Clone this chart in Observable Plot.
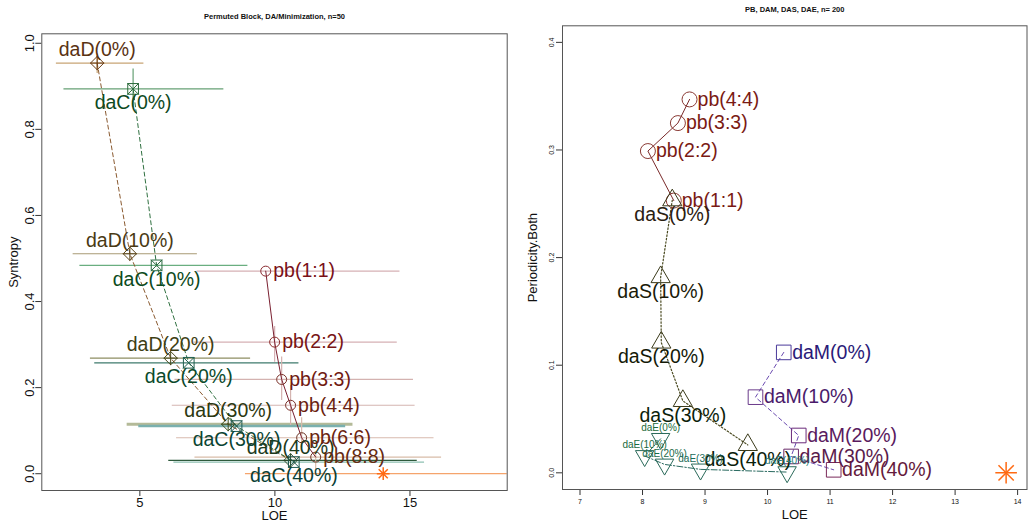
<!DOCTYPE html>
<html><head><meta charset="utf-8">
<script src="https://cdn.jsdelivr.net/npm/d3@7"></script>
<script src="https://cdn.jsdelivr.net/npm/@observablehq/plot@0.6"></script>
<style>
html,body{margin:0;padding:0;background:#fff;}
#wrap{display:flex;width:1028px;height:522px;overflow:hidden;background:#fff;}
</style></head><body><div id="wrap"></div>
<script>
// ================= DATA =================
// ---- Left panel: Permuted Block, DA/Minimization, n=50 ----
const leftTitle = "Permuted Block, DA/Minimization, n=50";
const leftXLabel = "LOE";
const leftYLabel = "Syntropy";
const leftXTicks = [5, 10, 15];
const leftYTicks = [0, 0.2, 0.4, 0.6, 0.8, 1.0];

const daDLabels = ["daD(0%)", "daD(10%)", "daD(20%)", "daD(30%)", "daD(40%)"];
const daDLoe    = [3.42, 4.63, 6.14, 8.27, 10.58];
const daDSyn    = [0.954, 0.511, 0.2685, 0.115, 0.031];
const daDLoeLo  = [1.91, 2.53, 3.17, 4.53, 6.07];
const daDLoeHi  = [5.15, 7.13, 9.10, 12.89, 15.27];
const daDSynLo  = [0.93, null, null, null, null];
const daDSynHi  = [0.975, null, null, null, null];

const daCLabels = ["daC(0%)", "daC(10%)", "daC(20%)", "daC(30%)", "daC(40%)"];
const daCLoe    = [4.75, 5.62, 6.81, 8.58, 10.70];
const daCSyn    = [0.894, 0.484, 0.2577, 0.1106, 0.027];
const daCLoeLo  = [2.19, 2.78, 3.33, 4.96, 6.26];
const daCLoeHi  = [8.11, 9.00, 10.89, 12.62, 15.54];
const daCSynLo  = [0.85, null, null, null, null];
const daCSynHi  = [0.94, null, null, null, null];

const pbLeftLabels = ["pb(1:1)", "pb(2:2)", "pb(3:3)", "pb(4:4)", "pb(6:6)", "pb(8:8)"];
const pbLeftLoe    = [9.66, 9.99, 10.25, 10.58, 10.99, 11.51];
const pbLeftSyn    = [0.4706, 0.3057, 0.219, 0.159, 0.0836, 0.0386];
const pbLeftLoeLo  = [7.12, 7.0, 6.3, 6.2, 6.36, 7.04];
const pbLeftLoeHi  = [14.63, 14.53, 15.13, 15.19, 15.89, 16.17];
const pbLeftSynLo  = [null, 0.259, 0.170, 0.112, 0.06, 0.008];
const pbLeftSynHi  = [null, 0.342, 0.271, 0.205, 0.13, 0.05];

const refLeftLoe   = [14.01];
const refLeftSyn   = [0.0];
const refLeftLoeLo = [8.91];
const refLeftLoeHi = [19.5];

// ---- Right panel: PB, DAM, DAS, DAE, n= 200 ----
const rightTitle = "PB, DAM, DAS, DAE, n= 200";
const rightXLabel = "LOE";
const rightYLabel = "Periodicity.Both";
const rightXTicks = [7, 8, 9, 10, 11, 12, 13, 14];
const rightYTicks = [0, 0.1, 0.2, 0.3, 0.4];

const pbRightLabels = ["pb(1:1)", "pb(2:2)", "pb(3:3)", "pb(4:4)"];
const pbRightLoe    = [8.50, 8.086, 8.566, 8.752];
const pbRightPer    = [0.253, 0.299, 0.325, 0.347];

const daSLabels = ["daS(0%)", "daS(10%)", "daS(20%)", "daS(30%)", "daS(40%)"];
const daSLoe    = [8.476, 8.29, 8.30, 8.645, 9.684];
const daSPer    = [0.2533, 0.1819, 0.1211, 0.0668, 0.0259];

const daMLabels = ["daM(0%)", "daM(10%)", "daM(20%)", "daM(30%)", "daM(40%)"];
const daMLoe    = [10.259, 9.807, 10.499, 10.377, 11.058];
const daMPer    = [0.1119, 0.0703, 0.0347, 0.0152, 0.0028];

const daELabels = ["daE(0%)", "daE(10%)", "daE(20%)", "daE(30%)", "daE(40%)"];
const daELoe    = [8.29, 8.034, 8.353, 8.928, 10.313];
const daEPer    = [0.0316, 0.0157, 0.0078, 0.0032, 0.0007];

const refRightLoe = [13.816];
const refRightPer = [0.0];

// ================= STYLES =================
const FONT = "'Liberation Sans', Arial, Helvetica, sans-serif";
const daDText   = ["#5a3212", "#4a3a14", "#3e3e14", "#2c3810", "#1c3a1c"];
const daDMark   = ["#6b3c14", "#5a4418", "#4a4a1a", "#3a4a1a", "#2a4a2a"];
const daDBar    = ["#c8a474", "#a89a74", "#8e8e62", "#b4ba98", "#2f5a3c"];
const daDBarW   = [1.2, 1.2, 1.2, 3, 1.2];
const daCText   = ["#0e4a1e", "#0c4a20", "#0b4a2c", "#0b4432", "#0b3f36"];
const daCMark   = ["#2a6a3a", "#2a6a40", "#1f5f4f", "#1f5a50", "#1f5a50"];
const daCBar    = ["#66a074", "#6aae80", "#3e7a6c", "#7ab0ae", "#8ec0b2"];
const daCBarW   = [1.2, 1.2, 1.2, 2.5, 1.2];
const pbLText   = ["#7a1018", "#781414", "#701a12", "#6a1e10", "#6a2410", "#652a10"];
const pbLMark   = ["#8a2a30", "#8a2a2a", "#7a3028", "#7a3028", "#6a3020", "#6a3020"];
const pbLBar    = ["#d6b0b4", "#d6b0b4", "#d4b2b0", "#d4b4b0", "#d8baae", "#d8bca8"];
const daSText   = ["#2a2010", "#1a1a08", "#141a08", "#0c1e0a", "#0a200a"];
const daMText   = ["#2a1a78", "#4a1a6a", "#5a1a5e", "#5a1a4c", "#641a3c"];
const daMMark   = ["#4a3a9a", "#6a3a8a", "#6a2a7a", "#6a2a6a", "#7a2a5a"];
const daEText   = ["#1a6a3a", "#1a6a40", "#1a6a48", "#1a6a58", "#2a7a70"];
const STAR = "#ff6a13";

function rows(labels, xs, ys, extra = {}) {
  return xs.map((x, i) => {
    const o = {label: labels ? labels[i] : "", x, y: ys[i]};
    for (const k in extra) o[k] = extra[k][i];
    return o;
  });
}

// ================= LEFT PLOT =================
const daD = rows(daDLabels, daDLoe, daDSyn, {lo: daDLoeLo, hi: daDLoeHi, ylo: daDSynLo, yhi: daDSynHi, tc: daDText, mc: daDMark, bc: daDBar, bw: daDBarW});
const daC = rows(daCLabels, daCLoe, daCSyn, {lo: daCLoeLo, hi: daCLoeHi, ylo: daCSynLo, yhi: daCSynHi, tc: daCText, mc: daCMark, bc: daCBar, bw: daCBarW});
const pbL = rows(pbLeftLabels, pbLeftLoe, pbLeftSyn, {lo: pbLeftLoeLo, hi: pbLeftLoeHi, ylo: pbLeftSynLo, yhi: pbLeftSynHi, tc: pbLText, mc: pbLMark, bc: pbLBar});
pbL.forEach(d => d.bw = 1.2);
const refL = rows(null, refLeftLoe, refLeftSyn, {lo: refLeftLoeLo, hi: refLeftLoeHi});
refL.forEach(d => { d.bc = "#f5a46c"; d.bw = 1.2; });

const bigFont = 19.5;
const f1 = d3.format(".1f");

const left = Plot.plot({
  width: 515, height: 522,
  marginLeft: 41.3, marginRight: 8.3, marginTop: 33.3, marginBottom: 32,
  style: {fontFamily: FONT, background: "white", overflow: "visible"},
  x: {domain: [1.37, 18.6]},
  y: {domain: [-0.039, 1.022]},
  color: {type: "identity"},
  marks: [
    Plot.ruleY([...pbL, ...daD, ...daC, ...refL], {y: "y", x1: "lo", x2: "hi", stroke: "bc", strokeWidth: "bw", clip: true}),
    Plot.ruleX([...pbL, ...daD, ...daC].filter(d => d.ylo != null), {x: "x", y1: "ylo", y2: "yhi", stroke: "bc", strokeWidth: 1.2}),
    Plot.line(daD, {x: "x", y: "y", stroke: "#8a5a30", strokeDasharray: "4,3", strokeWidth: 1}),
    Plot.line(daC, {x: "x", y: "y", stroke: "#2f7040", strokeDasharray: "4,3", strokeWidth: 1}),
    Plot.line(pbL, {x: "x", y: "y", stroke: "#7a2030", strokeWidth: 1}),
    Plot.dot(daD, {x: "x", y: "y", symbol: "diamond2", r: 6, stroke: "mc", fill: "none", strokeWidth: 1}),
    Plot.dot(daD, {x: "x", y: "y", symbol: "plus", r: 4.6, stroke: "mc", fill: "none", strokeWidth: 1}),
    Plot.dot(daC, {x: "x", y: "y", symbol: "square2", r: 6.8, stroke: "mc", fill: "none", strokeWidth: 1}),
    Plot.dot(daC, {x: "x", y: "y", symbol: "times", r: 5.3, stroke: "mc", fill: "none", strokeWidth: 1}),
    Plot.dot(pbL, {x: "x", y: "y", symbol: "circle", r: 5, stroke: "mc", fill: "none", strokeWidth: 1}),
    Plot.dot(refL, {x: "x", y: "y", symbol: "plus", r: 4.2, stroke: STAR, fill: "none", strokeWidth: 1.5}),
    Plot.dot(refL, {x: "x", y: "y", symbol: "times", r: 4.2, stroke: STAR, fill: "none", strokeWidth: 1.5}),
    Plot.text(daD, {x: "x", y: "y", text: "label", fill: "tc", fontSize: bigFont, dy: -13, textAnchor: "middle", lineAnchor: "middle"}),
    Plot.text(daC, {x: "x", y: "y", text: "label", fill: "tc", fontSize: bigFont, dy: 14, textAnchor: "middle", lineAnchor: "middle"}),
    Plot.text(pbL, {x: "x", y: "y", text: "label", fill: "tc", fontSize: bigFont, dx: 7.5, textAnchor: "start", lineAnchor: "middle"}),
    Plot.axisX(leftXTicks, {tickSize: 6, tickPadding: 1, fontSize: 13, label: null, stroke: "#333", fill: "#111"}),
    Plot.axisY(leftYTicks, {tickSize: 6, tickPadding: 2, tickRotate: -90, tickFormat: f1, fontSize: 13, label: null, stroke: "#333", fill: "#111"}),
    Plot.frame({stroke: "#555", strokeWidth: 1}),
    Plot.text([leftTitle], {text: d => d, frameAnchor: "top", dy: -17.3, fontSize: 7.5, fontWeight: "bold", textAnchor: "middle", lineAnchor: "middle", fill: "#111"}),
    Plot.text([leftXLabel], {text: d => d, frameAnchor: "bottom", dy: 25, fontSize: 13, textAnchor: "middle", lineAnchor: "middle", fill: "#111"}),
    Plot.text([leftYLabel], {text: d => d, frameAnchor: "left", dx: -28, rotate: -90, fontSize: 13, textAnchor: "middle", lineAnchor: "middle", fill: "#111"})
  ]
});

// ================= RIGHT PLOT =================
const pbR = rows(pbRightLabels, pbRightLoe, pbRightPer);
const daS = rows(daSLabels, daSLoe, daSPer, {tc: daSText});
const daM = rows(daMLabels, daMLoe, daMPer, {tc: daMText, mc: daMMark});
const daE = rows(daELabels, daELoe, daEPer, {tc: daEText});
const refR = rows(null, refRightLoe, refRightPer);

const right = Plot.plot({
  width: 513, height: 522,
  marginLeft: 47, marginRight: 1.5, marginTop: 25.3, marginBottom: 33,
  style: {fontFamily: FONT, background: "white", overflow: "visible"},
  x: {domain: [6.72, 14.15]},
  y: {domain: [-0.0155, 0.4154]},
  color: {type: "identity"},
  marks: [
    Plot.line(pbR, {x: "x", y: "y", stroke: "#7a2a2a", strokeWidth: 1}),
    Plot.line(daS, {x: "x", y: "y", stroke: "#4a4a20", strokeDasharray: "1.5,2", strokeWidth: 1.2}),
    Plot.line(daM, {x: "x", y: "y", stroke: "#6a4ab0", strokeDasharray: "4,3", strokeWidth: 1}),
    Plot.line(daE, {x: "x", y: "y", stroke: "#2a6a60", strokeDasharray: "6,2,1.5,2", strokeWidth: 1}),
    Plot.dot(pbR, {x: "x", y: "y", symbol: "circle", r: 7.5, stroke: "#8a3a34", fill: "none", strokeWidth: 1}),
    Plot.dot(daS, {x: "x", y: "y", symbol: "triangle2", r: 9.2, stroke: "#3a3a1a", fill: "none", strokeWidth: 1}),
    Plot.dot(daM, {x: "x", y: "y", symbol: "square2", r: 9.3, stroke: "mc", fill: "none", strokeWidth: 1}),
    Plot.dot(daE, {x: "x", y: "y", symbol: "triangle2", r: 8.8, rotate: 180, stroke: "#2a6a5a", fill: "none", strokeWidth: 1}),
    Plot.dot(refR, {x: "x", y: "y", symbol: "plus", r: 7, stroke: STAR, fill: "none", strokeWidth: 1.5}),
    Plot.dot(refR, {x: "x", y: "y", symbol: "times", r: 7, stroke: STAR, fill: "none", strokeWidth: 1.5}),
    Plot.text(pbR, {x: "x", y: "y", text: "label", fill: "#7a1a14", fontSize: bigFont, dx: 8, textAnchor: "start", lineAnchor: "middle"}),
    Plot.text(daS, {x: "x", y: "y", text: "label", fill: "tc", fontSize: bigFont, dy: 14.6, textAnchor: "middle", lineAnchor: "middle"}),
    Plot.text(daM, {x: "x", y: "y", text: "label", fill: "tc", fontSize: bigFont, dx: 8.4, textAnchor: "start", lineAnchor: "middle"}),
    Plot.text(daE, {x: "x", y: "y", text: "label", fill: "tc", fontSize: 10, dy: -11, textAnchor: "middle", lineAnchor: "middle"}),
    Plot.axisX(rightXTicks, {tickSize: 6, tickPadding: 4, fontSize: 7, label: null, stroke: "#333", fill: "#111"}),
    Plot.axisY(rightYTicks, {tickSize: 6, tickPadding: 3, tickRotate: -90, tickFormat: f1, fontSize: 7, label: null, stroke: "#333", fill: "#111"}),
    Plot.frame({stroke: "#555", strokeWidth: 1}),
    Plot.text([rightTitle], {text: d => d, frameAnchor: "top", dy: -16.3, fontSize: 7.5, fontWeight: "bold", textAnchor: "middle", lineAnchor: "middle", fill: "#111"}),
    Plot.text([rightXLabel], {text: d => d, frameAnchor: "bottom", dy: 25.5, fontSize: 13, textAnchor: "middle", lineAnchor: "middle", fill: "#111"}),
    Plot.text([rightYLabel], {text: d => d, frameAnchor: "left", dx: -30, rotate: -90, fontSize: 13, textAnchor: "middle", lineAnchor: "middle", fill: "#111"})
  ]
});

document.getElementById("wrap").append(left, right);
</script></body></html>
